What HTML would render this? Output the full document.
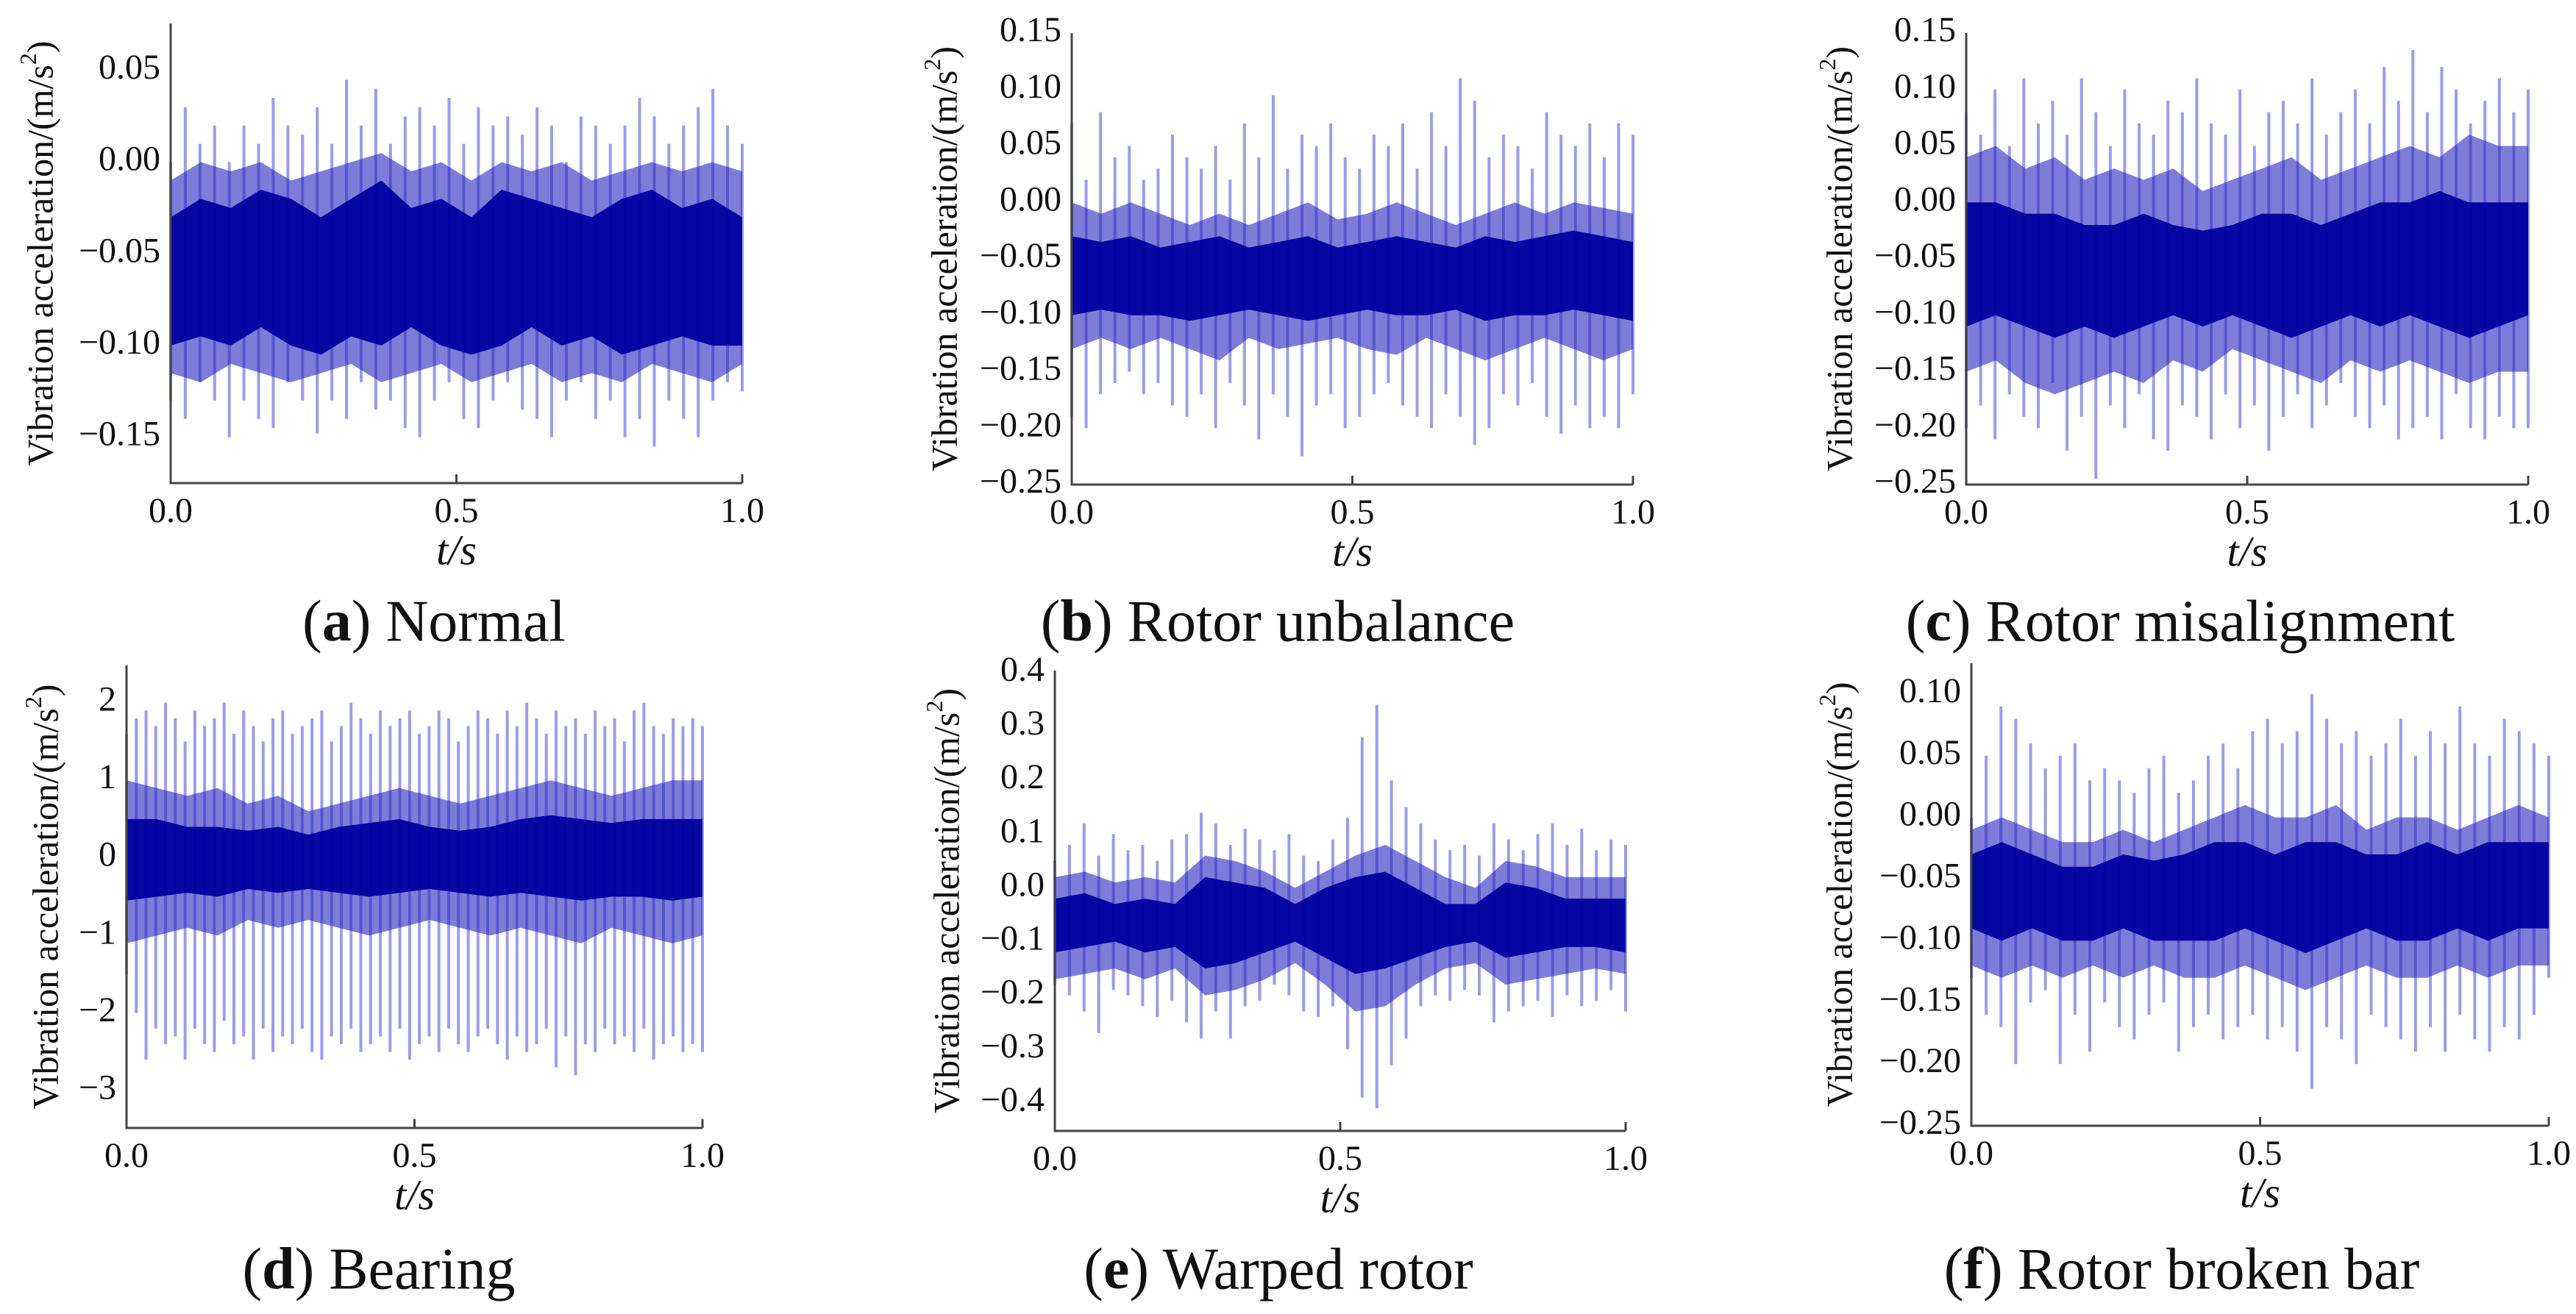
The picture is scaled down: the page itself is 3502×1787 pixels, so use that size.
<!DOCTYPE html>
<html><head><meta charset="utf-8"><style>
html,body{margin:0;padding:0;background:#fff;}
svg{display:block;}
text{font-family:"Liberation Serif",serif;fill:#111;}
</style></head><body>
<svg id="fig" width="3502" height="1787" viewBox="0 0 3502 1787" xmlns="http://www.w3.org/2000/svg"></svg>
<script>
// ---- data ----
const xTicks = [0.0, 0.5, 1.0];
const xTickLabels = ["0.0", "0.5", "1.0"];

const aTicks = [0.05, 0.00, -0.05, -0.10, -0.15];
const aTickLabels = ["0.05", "0.00", "\u22120.05", "\u22120.10", "\u22120.15"];
const aHi = [0.00,0.03,0.01,0.02,0.00,0.02,0.01,0.035,0.02,0.015,0.03,0.01,0.045,0.02,0.04,0.01,0.025,0.03,0.02,0.035,0.01,0.03,0.02,0.025,0.015,0.03,0.02,0.0,0.025,0.02,0.01,0.02,0.035,0.025,0.01,0.02,0.03,0.04,0.02,0.01];
const aLo = [-0.13,-0.14,-0.12,-0.13,-0.15,-0.13,-0.14,-0.145,-0.12,-0.13,-0.148,-0.13,-0.14,-0.12,-0.135,-0.13,-0.145,-0.15,-0.13,-0.12,-0.14,-0.145,-0.13,-0.12,-0.135,-0.14,-0.15,-0.13,-0.12,-0.14,-0.13,-0.15,-0.14,-0.155,-0.13,-0.14,-0.15,-0.13,-0.12,-0.125];
const aMidHi = [-0.01,0.0,-0.005,0.0,-0.01,-0.005,0.0,0.005,-0.005,0.0,-0.01,0.0,-0.005,0.0,-0.01,-0.005,0.0,-0.005,0.0,-0.005];
const aMidLo = [-0.115,-0.12,-0.11,-0.115,-0.12,-0.115,-0.11,-0.12,-0.115,-0.11,-0.12,-0.115,-0.11,-0.12,-0.115,-0.12,-0.11,-0.115,-0.12,-0.11];
const aCoreHi = [-0.03,-0.02,-0.025,-0.015,-0.02,-0.03,-0.02,-0.01,-0.025,-0.02,-0.03,-0.015,-0.02,-0.025,-0.03,-0.02,-0.015,-0.025,-0.02,-0.03];
const aCoreLo = [-0.10,-0.095,-0.10,-0.09,-0.10,-0.105,-0.095,-0.10,-0.09,-0.10,-0.105,-0.10,-0.09,-0.10,-0.095,-0.105,-0.10,-0.095,-0.10,-0.10];

const bTicks = [0.15,0.10,0.05,0.00,-0.05,-0.10,-0.15,-0.20,-0.25];
const bTickLabels = ["0.15","0.10","0.05","0.00","\u22120.05","\u22120.10","\u22120.15","\u22120.20","\u22120.25"];
const bHi = [0.07,0.02,0.08,0.04,0.05,0.02,0.03,0.06,0.04,0.03,0.05,0.02,0.07,0.04,0.095,0.03,0.06,0.05,0.07,0.04,0.03,0.06,0.05,0.07,0.03,0.08,0.05,0.11,0.09,0.04,0.06,0.05,0.03,0.08,0.06,0.05,0.07,0.04,0.07,0.06];
const bLo = [-0.19,-0.2,-0.17,-0.16,-0.15,-0.17,-0.16,-0.18,-0.19,-0.17,-0.2,-0.16,-0.18,-0.21,-0.17,-0.19,-0.225,-0.18,-0.17,-0.2,-0.19,-0.17,-0.16,-0.18,-0.19,-0.2,-0.17,-0.19,-0.215,-0.2,-0.17,-0.18,-0.16,-0.19,-0.205,-0.18,-0.2,-0.19,-0.2,-0.17];
const bMidHi = [0.0,-0.01,0.0,-0.01,-0.02,-0.01,-0.02,-0.01,0.0,-0.015,-0.01,0.0,-0.01,-0.02,-0.01,0.0,-0.01,0.0,-0.005,-0.01];
const bMidLo = [-0.13,-0.12,-0.13,-0.12,-0.13,-0.14,-0.12,-0.13,-0.125,-0.12,-0.13,-0.135,-0.12,-0.13,-0.14,-0.13,-0.12,-0.13,-0.14,-0.13];
const bCoreHi = [-0.03,-0.035,-0.03,-0.04,-0.035,-0.03,-0.04,-0.035,-0.03,-0.04,-0.035,-0.03,-0.035,-0.04,-0.03,-0.035,-0.03,-0.025,-0.03,-0.035];
const bCoreLo = [-0.10,-0.095,-0.10,-0.10,-0.105,-0.10,-0.095,-0.10,-0.105,-0.10,-0.095,-0.10,-0.10,-0.095,-0.105,-0.10,-0.10,-0.095,-0.10,-0.105];

const cTicks = bTicks;
const cTickLabels = bTickLabels;
const cHi = [0.08,0.06,0.10,0.05,0.11,0.07,0.09,0.06,0.11,0.08,0.05,0.10,0.07,0.06,0.09,0.08,0.11,0.07,0.06,0.10,0.05,0.08,0.09,0.07,0.11,0.06,0.08,0.10,0.07,0.12,0.09,0.135,0.08,0.12,0.10,0.07,0.09,0.11,0.08,0.10];
const cLo = [-0.20,-0.18,-0.21,-0.17,-0.19,-0.20,-0.16,-0.22,-0.19,-0.245,-0.18,-0.20,-0.17,-0.21,-0.22,-0.18,-0.19,-0.21,-0.17,-0.20,-0.18,-0.22,-0.19,-0.17,-0.2,-0.18,-0.16,-0.19,-0.20,-0.18,-0.21,-0.20,-0.19,-0.21,-0.17,-0.20,-0.21,-0.19,-0.2,-0.2];
const cMidHi = [0.04,0.05,0.03,0.04,0.02,0.03,0.02,0.03,0.01,0.02,0.03,0.04,0.02,0.03,0.04,0.05,0.04,0.06,0.05,0.05];
const cMidLo = [-0.15,-0.14,-0.16,-0.17,-0.16,-0.15,-0.16,-0.14,-0.15,-0.13,-0.14,-0.15,-0.16,-0.14,-0.15,-0.14,-0.15,-0.16,-0.15,-0.15];
const cCoreHi = [0.0,0.0,-0.01,-0.01,-0.02,-0.02,-0.01,-0.02,-0.025,-0.02,-0.01,-0.01,-0.02,-0.01,0.0,0.0,0.01,0.0,0.0,0.0];
const cCoreLo = [-0.11,-0.10,-0.11,-0.12,-0.11,-0.12,-0.11,-0.10,-0.11,-0.10,-0.11,-0.12,-0.11,-0.10,-0.11,-0.10,-0.11,-0.12,-0.11,-0.10];

const dTicks = [2,1,0,-1,-2,-3];
const dTickLabels = ["2","1","0","\u22121","\u22122","\u22123"];
const dHi = [1.6,1.8,1.9,1.7,2.0,1.8,1.5,1.9,1.7,1.8,2.0,1.6,1.9,1.7,1.5,1.8,1.9,1.6,1.7,1.8,1.9,1.5,1.7,2.0,1.8,1.6,1.9,1.7,1.8,1.9,1.6,1.7,1.9,1.8,1.5,1.7,1.9,1.8,1.6,1.9,1.7,2.0,1.8,1.6,1.9,1.7,1.8,1.6,1.9,1.7,1.8,1.5,1.9,2.0,1.7,1.6,1.8,1.7,1.8,1.7];
const dLo = [-1.5,-2.0,-2.6,-2.2,-2.4,-2.3,-2.6,-2.2,-2.4,-2.5,-2.1,-2.4,-2.3,-2.6,-2.2,-2.5,-2.3,-2.4,-2.2,-2.5,-2.6,-2.3,-2.4,-2.2,-2.5,-2.4,-2.3,-2.5,-2.2,-2.6,-2.4,-2.3,-2.5,-2.2,-2.4,-2.5,-2.3,-2.2,-2.4,-2.6,-2.3,-2.5,-2.4,-2.2,-2.7,-2.3,-2.8,-2.4,-2.5,-2.2,-2.4,-2.3,-2.5,-2.2,-2.6,-2.4,-2.3,-2.5,-2.4,-2.5];
const dMidHi = [1.0,0.9,0.8,0.9,0.7,0.8,0.6,0.7,0.8,0.9,0.8,0.7,0.8,0.9,1.0,0.9,0.8,0.9,1.0,1.0];
const dMidLo = [-1.1,-1.0,-0.9,-1.0,-0.8,-0.9,-0.8,-0.9,-1.0,-0.9,-0.8,-0.9,-1.0,-0.9,-1.0,-1.1,-0.9,-1.0,-1.1,-1.0];
const dCoreHi = [0.5,0.5,0.4,0.4,0.35,0.4,0.3,0.4,0.45,0.5,0.4,0.35,0.4,0.5,0.55,0.5,0.45,0.5,0.5,0.5];
const dCoreLo = [-0.55,-0.5,-0.45,-0.5,-0.4,-0.45,-0.4,-0.45,-0.5,-0.45,-0.4,-0.45,-0.5,-0.45,-0.5,-0.55,-0.5,-0.5,-0.55,-0.5];

const eTicks = [0.4,0.3,0.2,0.1,0.0,-0.1,-0.2,-0.3,-0.4];
const eTickLabels = ["0.4","0.3","0.2","0.1","0.0","\u22120.1","\u22120.2","\u22120.3","\u22120.4"];
const eHi = [0.05,0.08,0.12,0.06,0.10,0.07,0.08,0.05,0.09,0.10,0.14,0.12,0.08,0.11,0.09,0.07,0.10,0.06,0.05,0.09,0.13,0.28,0.34,0.20,0.15,0.12,0.09,0.07,0.08,0.06,0.12,0.09,0.07,0.10,0.12,0.08,0.11,0.07,0.09,0.08];
const eLo = [-0.18,-0.20,-0.23,-0.27,-0.19,-0.20,-0.22,-0.24,-0.21,-0.25,-0.28,-0.23,-0.28,-0.22,-0.21,-0.18,-0.20,-0.23,-0.24,-0.22,-0.30,-0.39,-0.41,-0.33,-0.28,-0.22,-0.20,-0.21,-0.19,-0.20,-0.25,-0.23,-0.22,-0.21,-0.24,-0.20,-0.22,-0.21,-0.19,-0.23];
const eMidHi = [0.02,0.03,0.01,0.02,0.01,0.06,0.05,0.03,0.0,0.03,0.06,0.08,0.05,0.02,0.0,0.05,0.04,0.02,0.02,0.02];
const eMidLo = [-0.17,-0.16,-0.15,-0.17,-0.15,-0.20,-0.19,-0.17,-0.14,-0.18,-0.23,-0.22,-0.18,-0.15,-0.14,-0.18,-0.17,-0.16,-0.15,-0.16];
const eCoreHi = [-0.02,-0.01,-0.03,-0.02,-0.03,0.02,0.01,0.0,-0.03,0.0,0.02,0.03,0.0,-0.03,-0.03,0.01,0.0,-0.02,-0.02,-0.02];
const eCoreLo = [-0.12,-0.11,-0.10,-0.12,-0.11,-0.15,-0.14,-0.12,-0.10,-0.13,-0.16,-0.15,-0.13,-0.11,-0.10,-0.13,-0.12,-0.11,-0.11,-0.12];

const fTicks = [0.10,0.05,0.00,-0.05,-0.10,-0.15,-0.20,-0.25];
const fTickLabels = ["0.10","0.05","0.00","\u22120.05","\u22120.10","\u22120.15","\u22120.20","\u22120.25"];
const fHi = [0.0,0.05,0.09,0.08,0.06,0.04,0.05,0.06,0.03,0.04,0.03,0.02,0.04,0.05,0.02,0.03,0.05,0.06,0.04,0.07,0.08,0.06,0.07,0.10,0.08,0.06,0.07,0.05,0.06,0.08,0.05,0.07,0.06,0.09,0.06,0.05,0.08,0.07,0.06,0.05];
const fLo = [-0.13,-0.16,-0.17,-0.20,-0.15,-0.14,-0.20,-0.16,-0.19,-0.15,-0.17,-0.18,-0.16,-0.15,-0.19,-0.17,-0.16,-0.18,-0.17,-0.16,-0.18,-0.17,-0.19,-0.22,-0.17,-0.18,-0.20,-0.16,-0.17,-0.18,-0.19,-0.17,-0.19,-0.16,-0.18,-0.19,-0.17,-0.18,-0.16,-0.13];
const fMidHi = [-0.01,0.0,-0.01,-0.02,-0.02,-0.01,-0.02,-0.01,0.0,0.01,0.0,0.0,0.01,-0.01,0.0,0.0,-0.01,0.0,0.01,0.0];
const fMidLo = [-0.12,-0.13,-0.12,-0.13,-0.12,-0.13,-0.12,-0.13,-0.13,-0.12,-0.13,-0.14,-0.13,-0.12,-0.13,-0.13,-0.12,-0.13,-0.12,-0.12];
const fCoreHi = [-0.03,-0.02,-0.03,-0.04,-0.04,-0.03,-0.035,-0.03,-0.02,-0.02,-0.03,-0.02,-0.02,-0.03,-0.03,-0.02,-0.03,-0.02,-0.02,-0.02];
const fCoreLo = [-0.09,-0.10,-0.09,-0.10,-0.10,-0.09,-0.10,-0.10,-0.10,-0.09,-0.10,-0.11,-0.10,-0.09,-0.10,-0.10,-0.09,-0.10,-0.09,-0.09];

// ---- layout ----
const NS = "http://www.w3.org/2000/svg";
const svg = document.getElementById('fig');
function el(tag, attrs, parent){ const e=document.createElementNS(NS,tag); for(const k in attrs) e.setAttribute(k,attrs[k]); (parent||svg).appendChild(e); return e; }

const panels = [
 {id:'a', letter:'a', title:'Normal', x0:232, x1:1009, yT:32, yB:657, vMax:0.0756, vMin:-0.175, ticks:aTicks, labels:aTickLabels, hi:aHi, lo:aLo, mHi:aMidHi, mLo:aMidLo, cHi:aCoreHi, cLo:aCoreLo, ylx:60, capX:590, capY:853},
 {id:'b', letter:'b', title:'Rotor unbalance', x0:1457, x1:2220, yT:45, yB:659, vMax:0.15, vMin:-0.25, ticks:bTicks, labels:bTickLabels, hi:bHi, lo:bLo, mHi:bMidHi, mLo:bMidLo, cHi:bCoreHi, cLo:bCoreLo, ylx:1289, capX:1737, capY:853},
 {id:'c', letter:'c', title:'Rotor misalignment', x0:2673, x1:3437, yT:45, yB:659, vMax:0.15, vMin:-0.25, ticks:cTicks, labels:cTickLabels, hi:cHi, lo:cLo, mHi:cMidHi, mLo:cMidLo, cHi:cCoreHi, cLo:cCoreLo, ylx:2506, capX:2964, capY:853},
 {id:'d', letter:'d', title:'Bearing', x0:172, x1:955, yT:905, yB:1534, vMax:2.48, vMin:-3.48, ticks:dTicks, labels:dTickLabels, hi:dHi, lo:dLo, mHi:dMidHi, mLo:dMidLo, cHi:dCoreHi, cLo:dCoreLo, ylx:67, capX:515, capY:1734},
 {id:'e', letter:'e', title:'Warped rotor', x0:1434, x1:2210, yT:912, yB:1538, vMax:0.404, vMin:-0.452, ticks:eTicks, labels:eTickLabels, hi:eHi, lo:eLo, mHi:eMidHi, mLo:eMidLo, cHi:eCoreHi, cLo:eCoreLo, ylx:1292, capX:1738, capY:1734},
 {id:'f', letter:'f', title:'Rotor broken bar', x0:2680, x1:3465, yT:902, yB:1531, vMax:0.125, vMin:-0.25, ticks:fTicks, labels:fTickLabels, hi:fHi, lo:fLo, mHi:fMidHi, mLo:fMidLo, cHi:fCoreHi, cLo:fCoreLo, ylx:2506, capX:2966, capY:1734}
];

panels.forEach(p=>{
  const g = el('g',{});
  
  
  const X = t => p.x0 + t*(p.x1-p.x0);
  const Y = v => p.yT + (p.vMax - v)/(p.vMax - p.vMin)*(p.yB - p.yT);

  // spikes
  const sg = el('g',{stroke:'#4a4ad6','stroke-width':4,'stroke-opacity':0.55}, g);
  
  
  const n = p.hi.length;
  for(let i=0;i<n;i++){
    const x = X(i/(n-1));
    el('line',{x1:x,x2:x,y1:Y(p.hi[i]),y2:Y(p.lo[i])},sg);
  }
  function band(up, dn, fill, op, name){
    const m = up.length; let pts=[];
    for(let i=0;i<m;i++) pts.push(X(i/(m-1))+','+Y(up[i]));
    for(let i=m-1;i>=0;i--) pts.push(X(i/(m-1))+','+Y(dn[i]));
    const poly = el('polygon',{points:pts.join(' '),fill:fill,'fill-opacity':op},g);
    
    
  }
  band(p.mHi, p.mLo, '#2626c0', 0.6, 'signal-mid-band-'+p.id);
  band(p.cHi, p.cLo, '#0000a0', 0.95, 'signal-core-band-'+p.id);

  // axes
  const ax = el('path',{d:`M${p.x0},${p.yT} L${p.x0},${p.yB} L${p.x1},${p.yB}`,fill:'none',stroke:'#444','stroke-width':3},g);
  
  
  xTicks.forEach((t,i)=>{
    const x = X(t);
    if(t>0) el('line',{x1:x,x2:x,y1:p.yB,y2:p.yB-12,stroke:'#444','stroke-width':3},g);
    const tx = el('text',{x:x,y:p.yB+42,'text-anchor':'middle','dominant-baseline':'middle','font-size':48},g);
    tx.textContent = xTickLabels[i];
    
    
  });
  p.ticks.forEach((v,i)=>{
    const ty = el('text',{x:p.x0-14,y:Y(v),'text-anchor':'end','dominant-baseline':'middle','font-size':48},g);
    ty.textContent = p.labels[i];
    
    
  });
  const xt = el('text',{x:(p.x0+p.x1)/2,y:p.yB+97,'text-anchor':'middle','dominant-baseline':'middle','font-size':58,'font-style':'italic'},g);
  xt.textContent = 't/s';
  
  
  const cy = (p.yT+p.yB)/2;
  const yt = el('text',{x:p.ylx,y:cy,'text-anchor':'middle','dominant-baseline':'middle','font-size':50,transform:`rotate(-90 ${p.ylx} ${cy})`},g);
  yt.innerHTML = 'Vibration acceleration/(m/s<tspan dy="-18" font-size="32">2</tspan><tspan dy="18">)</tspan>';
  
  
  const cap = el('text',{x:p.capX,y:p.capY,'text-anchor':'middle','dominant-baseline':'middle','font-size':80},g);
  cap.innerHTML = '(<tspan font-weight="bold">'+p.letter+'</tspan>) '+p.title;
  
  
});
</script>
</body></html>
